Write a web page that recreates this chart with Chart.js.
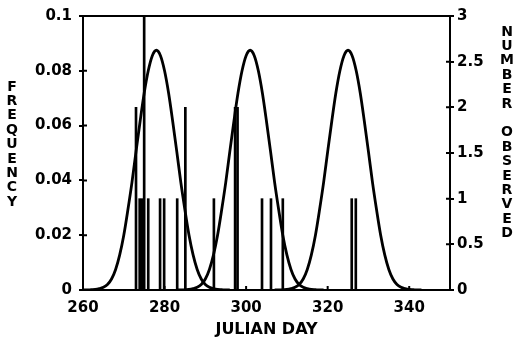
<!DOCTYPE html>
<html>
<head>
<meta charset="utf-8">
<script src="https://cdn.jsdelivr.net/npm/chart.js@4"></script>
<style>
  html, body { margin: 0; padding: 0; background: #fff; }
</style>
</head>
<body>
<canvas id="seasonChart" width="513" height="343"></canvas>
<script>
// axis ticks
const xTicks = [260, 280, 300, 320, 340];
const freqTicks = [0, 0.02, 0.04, 0.06, 0.08, 0.1];
const countTicks = [0, 0.5, 1, 1.5, 2, 2.5, 3];

// observed counts (right axis)
const obsDays = [273, 273.9, 274.5, 275, 276, 278.9, 279.9, 283.1, 285.1, 292.1, 297.3, 297.9, 303.9, 306.1, 309, 325.9, 326.9];
const obsCounts = [2, 1, 1, 3, 1, 1, 1, 1, 2, 1, 2, 2, 1, 1, 1, 1, 1];

// fitted frequency curves (left axis)
const curve1Days = [260, 261, 262, 263, 264, 265, 266, 267, 268, 269, 270, 271, 272, 273, 274, 275, 276, 277, 278,
  279, 280, 281, 282, 283, 284, 285, 286, 287, 288, 289, 290, 291, 292, 293, 294, 295, 296];
const curve1Freq = [0, 0, 0.0001, 0.0002, 0.0005, 0.0010, 0.0020, 0.0040, 0.0075, 0.0128, 0.0200, 0.0292, 0.0392, 0.0505, 0.0615, 0.0718, 0.0800, 0.0855, 0.0875,
  0.0855, 0.0800, 0.0718, 0.0615, 0.0505, 0.0392, 0.0292, 0.0200, 0.0128, 0.0075, 0.0040, 0.0020, 0.0010, 0.0005, 0.0002, 0.0001, 0, 0];

const curve2Days = [283, 284, 285, 286, 287, 288, 289, 290, 291, 292, 293, 294, 295, 296, 297, 298, 299, 300, 301,
  302, 303, 304, 305, 306, 307, 308, 309, 310, 311, 312, 313, 314, 315, 316, 317, 318, 319];
const curve2Freq = [0, 0, 0.0001, 0.0002, 0.0005, 0.0010, 0.0020, 0.0040, 0.0075, 0.0128, 0.0200, 0.0292, 0.0392, 0.0505, 0.0615, 0.0718, 0.0800, 0.0855, 0.0875,
  0.0855, 0.0800, 0.0718, 0.0615, 0.0505, 0.0392, 0.0292, 0.0200, 0.0128, 0.0075, 0.0040, 0.0020, 0.0010, 0.0005, 0.0002, 0.0001, 0, 0];

const curve3Days = [307, 308, 309, 310, 311, 312, 313, 314, 315, 316, 317, 318, 319, 320, 321, 322, 323, 324, 325,
  326, 327, 328, 329, 330, 331, 332, 333, 334, 335, 336, 337, 338, 339, 340, 341, 342, 343];
const curve3Freq = [0, 0, 0.0001, 0.0002, 0.0005, 0.0010, 0.0020, 0.0040, 0.0075, 0.0128, 0.0200, 0.0292, 0.0392, 0.0505, 0.0615, 0.0718, 0.0800, 0.0855, 0.0875,
  0.0855, 0.0800, 0.0718, 0.0615, 0.0505, 0.0392, 0.0292, 0.0200, 0.0128, 0.0075, 0.0040, 0.0020, 0.0010, 0.0005, 0.0002, 0.0001, 0, 0];

const leftTitle = 'FREQUENCY';
const rightTitle = 'NUMBER OBSERVED';

Chart.defaults.font.family = '"DejaVu Sans", sans-serif';
Chart.defaults.font.weight = 'bold';
Chart.defaults.color = '#000';

const ctx = document.getElementById('seasonChart').getContext('2d');

const toPoints = (xs, ys) => xs.map((x, i) => ({ x: x, y: ys[i] }));
const setTicks = list => scale => { scale.ticks = list.map(v => ({ value: v })); };

const curveStyle = {
  type: 'line',
  yAxisID: 'y',
  borderColor: '#000',
  borderWidth: 2.8,
  pointRadius: 0,
  fill: false,
  cubicInterpolationMode: 'monotone'
};

// box top, inner tick marks and the stacked axis titles
const frame = {
  id: 'frame',
  afterDraw(chart) {
    const { ctx, chartArea: a, scales } = chart;
    ctx.save();
    ctx.strokeStyle = '#000';
    ctx.lineWidth = 2;
    ctx.beginPath();
    ctx.moveTo(a.left - 1, a.top);
    ctx.lineTo(a.right + 1, a.top);
    scales.y.ticks.forEach(t => {
      const py = scales.y.getPixelForValue(t.value);
      ctx.moveTo(a.left, py); ctx.lineTo(a.left + 4, py);
    });
    scales.y2.ticks.forEach(t => {
      const py = scales.y2.getPixelForValue(t.value);
      ctx.moveTo(a.right - 4, py); ctx.lineTo(a.right, py);
    });
    scales.x.ticks.forEach(t => {
      const px = scales.x.getPixelForValue(t.value);
      ctx.moveTo(px, a.bottom); ctx.lineTo(px, a.bottom - 4);
    });
    ctx.stroke();

    ctx.fillStyle = '#000';
    ctx.font = 'bold 14px "DejaVu Sans"';
    ctx.textAlign = 'center';
    ctx.textBaseline = 'middle';
    leftTitle.split('').forEach((ch, i) => ctx.fillText(ch, 12, 87 + i * 14.4));
    rightTitle.split('').forEach((ch, i) => ctx.fillText(ch, 507, 32 + i * 14.4));
    ctx.restore();
  }
};

new Chart(ctx, {
  type: 'line',
  data: {
    datasets: [
      Object.assign({}, curveStyle, { data: toPoints(curve1Days, curve1Freq) }),
      Object.assign({}, curveStyle, { data: toPoints(curve2Days, curve2Freq) }),
      Object.assign({}, curveStyle, { data: toPoints(curve3Days, curve3Freq) }),
      {
        type: 'bar',
        yAxisID: 'y2',
        data: toPoints(obsDays, obsCounts),
        backgroundColor: '#000',
        barThickness: 2
      }
    ]
  },
  options: {
    responsive: false,
    animation: false,
    layout: { padding: { top: 15, left: 0, right: 0, bottom: 0 } },
    plugins: { legend: { display: false }, tooltip: { enabled: false } },
    scales: {
      x: {
        type: 'linear',
        min: 260,
        max: 350,
        offset: false,
        afterBuildTicks: setTicks(xTicks),
        afterFit: s => { s.height = 53; },
        ticks: { font: { size: 15 }, padding: 9, maxRotation: 0, callback: v => String(v) },
        grid: { display: false, drawTicks: false },
        border: { display: true, color: '#000', width: 2 },
        title: { display: true, text: 'JULIAN DAY', font: { size: 16 }, padding: { top: 0, bottom: 4 } }
      },
      y: {
        position: 'left',
        min: 0,
        max: 0.1,
        afterBuildTicks: setTicks(freqTicks),
        afterFit: s => { s.width = 83; },
        ticks: { font: { size: 15 }, padding: 7, callback: v => String(v) },
        grid: { drawOnChartArea: false, tickLength: 4, color: '#000', lineWidth: 2 },
        border: { display: true, color: '#000', width: 2 }
      },
      y2: {
        position: 'right',
        min: 0,
        max: 3,
        afterBuildTicks: setTicks(countTicks),
        afterFit: s => { s.width = 63; },
        ticks: { font: { size: 15 }, padding: 3, callback: v => String(v) },
        grid: { drawOnChartArea: false, tickLength: 4, color: '#000', lineWidth: 2 },
        border: { display: true, color: '#000', width: 2 }
      }
    }
  },
  plugins: [frame]
});
</script>
</body>
</html>
